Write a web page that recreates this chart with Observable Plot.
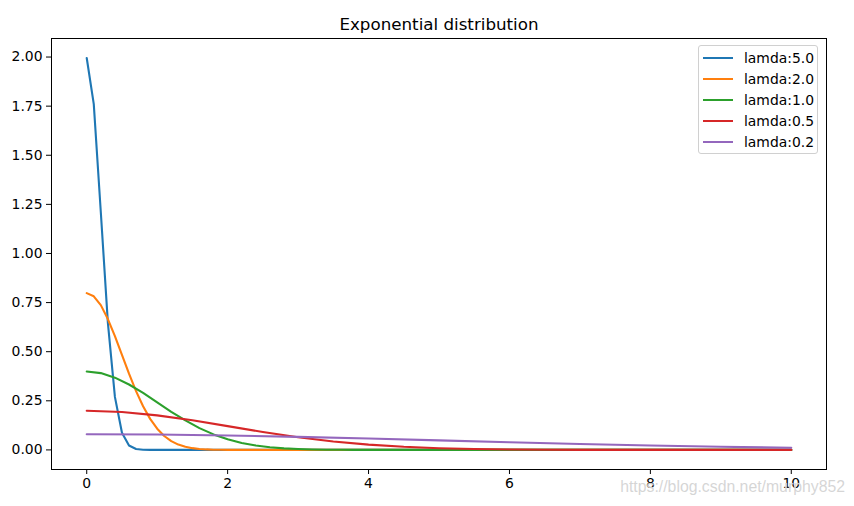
<!DOCTYPE html>
<html>
<head>
<meta charset="utf-8">
<script src="https://cdn.jsdelivr.net/npm/d3@7"></script>
<script src="https://cdn.jsdelivr.net/npm/@observablehq/plot@0.6"></script>
<style>
  html, body { margin: 0; padding: 0; background: #fff; }
  #wrap { position: relative; width: 854px; height: 506px; font-family: "DejaVu Sans", sans-serif; }
  #legend { position: absolute; left: 698px; top: 45px; width: 118px; height: 107px;
    border: 1px solid #d0d0d0; border-radius: 3px; background: rgba(255,255,255,0.8);
    font-size: 13.9px; color: #000; }
  .row { position: absolute; left: 0; height: 20px; display: flex; align-items: center; }
  .sw { width: 30px; height: 2px; margin-left: 4px; margin-right: 11px; }
  #wm { position: absolute; right: 9px; top: 478px; font-family: "Liberation Sans", Arial, sans-serif;
    font-size: 15.8px; color: rgba(200,200,200,0.75); text-shadow: 0 0 1px #fff; white-space: nowrap; }
</style>
</head>
<body>
<div id="wrap"></div>
<script>
// ---- data ----
const seriesNames = ["lamda:5.0", "lamda:2.0", "lamda:1.0", "lamda:0.5", "lamda:0.2"];
const colors = ["#1f77b4", "#ff7f0e", "#2ca02c", "#d62728", "#9467bd"];

const x50 = [0, 0.1, 0.2, 0.3, 0.4, 0.5, 0.6, 0.7, 0.8, 0.9, 1.0, 2, 3, 4, 5, 6, 7, 8, 9, 10];
const y50 = [1.995, 1.760, 1.210, 0.648, 0.270, 0.0876, 0.0222, 0.0044, 0.0007, 0.0001, 0, 0, 0, 0, 0, 0, 0, 0, 0, 0];

const x20 = [0, 0.1, 0.2, 0.3, 0.4, 0.5, 0.6, 0.7, 0.8, 0.9, 1.0, 1.1, 1.2, 1.3, 1.4, 1.5, 1.6, 1.7, 1.8, 1.9, 2.0, 3, 4, 5, 6, 7, 8, 9, 10];
const y20 = [0.798, 0.782, 0.737, 0.666, 0.579, 0.484, 0.388, 0.299, 0.222, 0.158, 0.108, 0.0709, 0.0448, 0.0271, 0.0158, 0.0089, 0.0048, 0.0025, 0.0012, 0.0006, 0.0003, 0, 0, 0, 0, 0, 0, 0, 0];

const x10 = [0, 0.2, 0.4, 0.6, 0.8, 1.0, 1.2, 1.4, 1.6, 1.8, 2.0, 2.2, 2.4, 2.6, 2.8, 3.0, 3.2, 3.4, 3.6, 3.8, 4.0, 5, 6, 7, 8, 9, 10];
const y10 = [0.399, 0.391, 0.368, 0.333, 0.290, 0.242, 0.194, 0.150, 0.111, 0.079, 0.054, 0.0355, 0.0224, 0.0136, 0.0079, 0.0044, 0.0024, 0.0012, 0.0006, 0.0003, 0.0001, 0, 0, 0, 0, 0, 0];

const x05 = [0, 0.5, 1.0, 1.5, 2.0, 2.5, 3.0, 3.5, 4.0, 4.5, 5.0, 5.5, 6.0, 6.5, 7.0, 7.5, 8.0, 9, 10];
const y05 = [0.1995, 0.1934, 0.1760, 0.1506, 0.1210, 0.0913, 0.0648, 0.0432, 0.0270, 0.0159, 0.0088, 0.0046, 0.0022, 0.0010, 0.0004, 0.0002, 0.0001, 0, 0];

const x02 = [0, 1, 2, 3, 4, 5, 6, 7, 8, 9, 10];
const y02 = [0.0798, 0.0782, 0.0737, 0.0666, 0.0579, 0.0484, 0.0388, 0.0299, 0.0222, 0.0158, 0.0108];

const xTicks = [0, 2, 4, 6, 8, 10];
const yTicks = [0, 0.25, 0.5, 0.75, 1.0, 1.25, 1.5, 1.75, 2.0];
const title = "Exponential distribution";
const watermark = "https://blog.csdn.net/murphy852";

// ---- build table ----
const xs = [x50, x20, x10, x05, x02];
const ys = [y50, y20, y10, y05, y02];
const rows = [];
seriesNames.forEach((name, i) => {
  xs[i].forEach((xv, j) => rows.push({ series: name, x: xv, y: ys[i][j] }));
});

const chart = Plot.plot({
  width: 854,
  height: 506,
  marginLeft: 51,
  marginRight: 28,
  marginTop: 38,
  marginBottom: 37,
  style: { fontFamily: "DejaVu Sans, sans-serif", fontSize: "13.9px", color: "#000", background: "#fff" },
  x: { domain: [-0.5, 10.5], label: null },
  y: { domain: [-0.0997, 2.0944], label: null },
  color: { domain: seriesNames, range: colors },
  marks: [
    Plot.axisX({ ticks: xTicks, tickSize: 5, tickPadding: 4, tickFormat: d3.format("d"), fontSize: 13.9, label: null }),
    Plot.axisY({ ticks: yTicks, tickSize: 5, tickPadding: 4, tickFormat: d3.format(".2f"), fontSize: 13.9, label: null }),
    Plot.line(rows, { x: "x", y: "y", z: "series", stroke: "series", strokeWidth: 2.1, curve: "linear" }),
    Plot.frame({ stroke: "#000", strokeWidth: 1 }),
    Plot.text([title], { text: d => d, frameAnchor: "top", dy: -20, fontSize: 16.7, fill: "#000" })
  ]
});

const wrap = document.getElementById("wrap");
wrap.appendChild(chart);

// legend
const legend = document.createElement("div");
legend.id = "legend";
seriesNames.forEach((name, i) => {
  const r = document.createElement("div");
  r.className = "row";
  r.style.top = (2 + i * 21) + "px";
  const sw = document.createElement("span");
  sw.className = "sw";
  sw.style.background = colors[i];
  const t = document.createElement("span");
  t.textContent = name;
  r.appendChild(sw); r.appendChild(t);
  legend.appendChild(r);
});
wrap.appendChild(legend);

const wm = document.createElement("div");
wm.id = "wm";
wm.textContent = watermark;
wrap.appendChild(wm);
</script>
</body>
</html>
